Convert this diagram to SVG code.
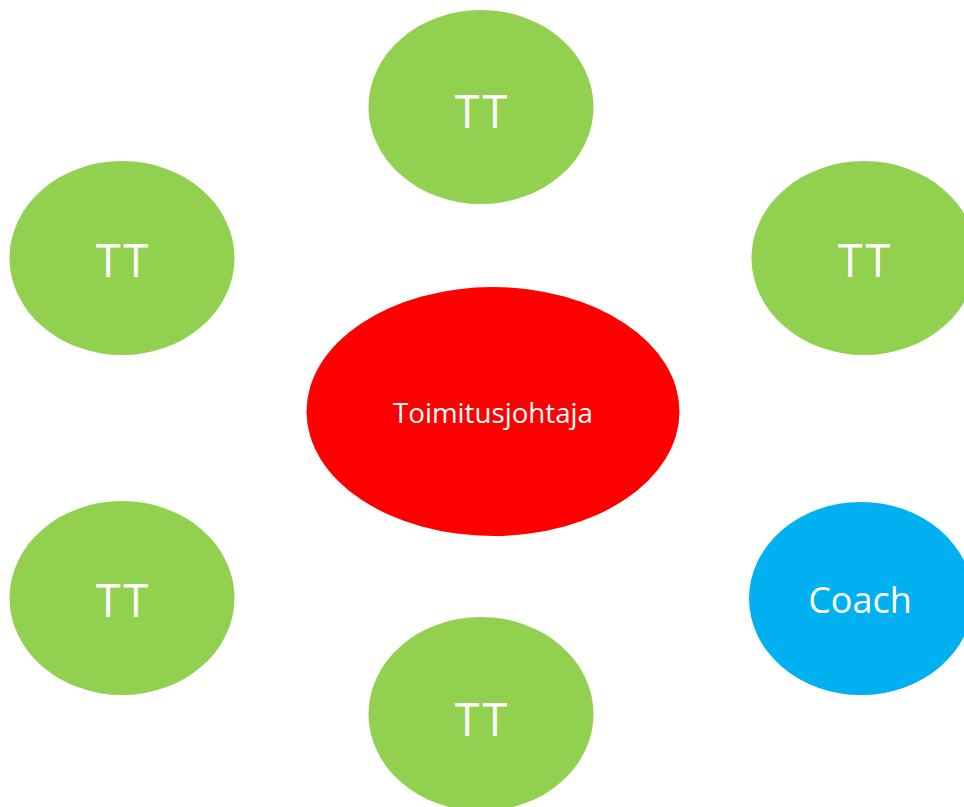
<svg xmlns="http://www.w3.org/2000/svg" width="964" height="807" viewBox="0 0 964 807">
  <style>
    .tt { fill: #92D050; }
    .ceo { fill: #FF0000; }
    .coach { fill: #00B0F0; }
    text { fill: #FFFFFF; font-family: "Open Sans", "Noto Sans", "Liberation Sans", sans-serif; text-anchor: middle; }
    .big { font-size: 45px; font-weight: 400; letter-spacing: 3px; }
    .mid { font-size: 36px; font-weight: 400; }
    .small { font-size: 28px; font-weight: 400; }
  </style>
  <rect width="964" height="807" fill="#FFFFFF"/>
  <g id="connectors"/>
  <g id="tt-top">
    <ellipse class="tt" cx="481" cy="107" rx="112.5" ry="97"/>
    <text class="big" x="482.5" y="128">TT</text>
  </g>
  <g id="tt-upper-left">
    <ellipse class="tt" cx="122" cy="258" rx="112.5" ry="97"/>
    <text class="big" x="123.5" y="277">TT</text>
  </g>
  <g id="tt-upper-right">
    <ellipse class="tt" cx="864" cy="258" rx="112.5" ry="97"/>
    <text class="big" x="865.5" y="277">TT</text>
  </g>
  <g id="toimitusjohtaja">
    <ellipse class="ceo" cx="493" cy="411.5" rx="186.5" ry="124.5"/>
    <text class="small" x="493" y="423" textLength="200" lengthAdjust="spacingAndGlyphs">Toimitusjohtaja</text>
  </g>
  <g id="tt-lower-left">
    <ellipse class="tt" cx="122" cy="598" rx="112.5" ry="97"/>
    <text class="big" x="123.5" y="617">TT</text>
  </g>
  <g id="coach">
    <ellipse class="coach" cx="861" cy="598.5" rx="112" ry="96.5"/>
    <text class="mid" x="860" y="613">Coach</text>
  </g>
  <g id="tt-bottom">
    <ellipse class="tt" cx="481" cy="714" rx="112.5" ry="97"/>
    <text class="big" x="482.5" y="736">TT</text>
  </g>
</svg>
